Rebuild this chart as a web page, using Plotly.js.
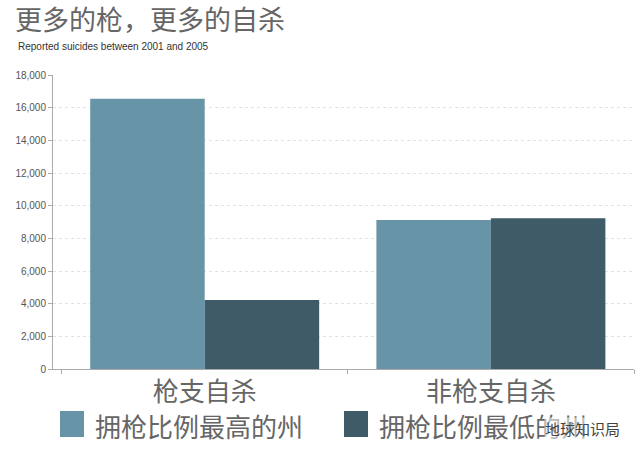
<!DOCTYPE html>
<html>
<head>
<meta charset="utf-8">
<script src="https://cdn.plot.ly/plotly-3.0.1.min.js"></script>
<style>html,body{margin:0;padding:0;background:#fff;}#chart{width:640px;height:457px;}</style>
</head>
<body>
<div id="chart"></div>
<script>
// Data
const categories = ["枪支自杀", "非枪支自杀"];
const seriesNames = ["拥枪比例最高的州", "拥枪比例最低的州"];
const highOwnership = [16550, 9130];
const lowOwnership = [4220, 9230];
const yTickValues = [0, 2000, 4000, 6000, 8000, 10000, 12000, 14000, 16000, 18000];
const yTickLabels = ["0", "2,000", "4,000", "6,000", "8,000", "10,000", "12,000", "14,000", "16,000", "18,000"];
const titleText = "更多的枪，更多的自杀";
const subtitleText = "Reported suicides between 2001 and 2005";
const watermarkText = "地球知识局";

const colors = ["#6794a6", "#3f5b68"];
const cjk = "'Noto Sans CJK SC', 'Noto Sans', sans-serif";

const traces = [
  {type: "bar", name: seriesNames[0], x: categories, y: highOwnership, marker: {color: colors[0]}, showlegend: false, hoverinfo: "skip"},
  {type: "bar", name: seriesNames[1], x: categories, y: lowOwnership, marker: {color: colors[1]}, showlegend: false, hoverinfo: "skip"}
];

// manual legend (large squares)
const legendSquares = [
  {x0: 60, x1: 84},
  {x0: 344, x1: 368}
];
const shapes = legendSquares.map((s, i) => ({
  type: "rect", xref: "paper", yref: "paper",
  x0: (s.x0 - 53) / 581, x1: (s.x1 - 53) / 581,
  y0: -(437 - 369) / 294, y1: -(411 - 369) / 294,
  fillcolor: colors[i], line: {width: 0}
}));
const legendTextX = [93, 377];
const annotations = seriesNames.map((n, i) => ({
  text: n, xref: "paper", yref: "paper",
  x: (legendTextX[i] - 53) / 581, xanchor: "left",
  y: -(425 - 369) / 294, yanchor: "middle",
  showarrow: false, font: {family: cjk, size: 26, color: "#666"}
}));
annotations.push({
  text: subtitleText, xref: "paper", yref: "paper",
  x: (16 - 53) / 581, xanchor: "left", y: 1 + (75 - 47) / 294, yanchor: "middle",
  showarrow: false, font: {family: "'Liberation Sans', Arial, sans-serif", size: 10, color: "#333"}
});
annotations.push({
  text: watermarkText, xref: "paper", yref: "paper",
  x: (582 - 53) / 581, xanchor: "center", y: -(428 - 369) / 294, yanchor: "middle",
  showarrow: false, bgcolor: "rgba(255,255,255,0.55)", borderpad: 0,
  font: {family: cjk, size: 15, color: "#444"}
});

const layout = {
  width: 640, height: 457,
  margin: {l: 53, r: 6, t: 75, b: 88},
  paper_bgcolor: "#fff", plot_bgcolor: "#fff",
  title: {
    text: titleText, xref: "container", yref: "container",
    x: 15 / 640, xanchor: "left", y: 1 - 21 / 457, yanchor: "middle",
    font: {family: cjk, size: 27, color: "#666"}
  },
  barmode: "group", bargap: 0.2, bargroupgap: 0,
  xaxis: {
    type: "category", range: [-0.53, 1.5],
    showline: true, linecolor: "#aaa", linewidth: 1,
    ticks: "outside", tickson: "boundaries", ticklen: 4, tickcolor: "#aaa",
    showgrid: false, zeroline: false,
    tickfont: {family: cjk, size: 26, color: "#666"}
  },
  yaxis: {
    range: [0, 18000], tickvals: yTickValues, ticktext: yTickLabels,
    showline: true, linecolor: "#aaa", linewidth: 1,
    ticks: "outside", ticklen: 4, tickcolor: "#aaa",
    showgrid: true, gridcolor: "#e2e2e2", griddash: "dot", gridwidth: 1,
    zeroline: false,
    tickfont: {family: "'Liberation Sans', Arial, sans-serif", size: 10, color: "#555"}
  },
  shapes: shapes,
  annotations: annotations
};

Plotly.newPlot("chart", traces, layout, {staticPlot: true, displayModeBar: false});
</script>
</body>
</html>
